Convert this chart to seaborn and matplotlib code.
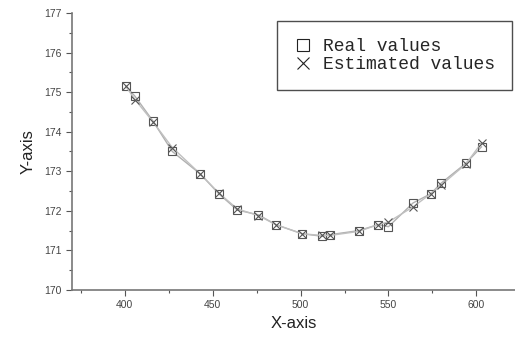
import seaborn as sns
import matplotlib.pyplot as plt
from matplotlib.lines import Line2D
from matplotlib.ticker import MultipleLocator

# values
x_real = [400.5, 405.7, 416, 427, 443, 453.5, 464, 476, 486, 501,
          512, 517, 533, 544, 550, 564, 574, 580, 594, 603]
y_real = [175.15, 174.9, 174.27, 173.5, 172.93, 172.43, 172.02, 171.9, 171.65, 171.42,
          171.36, 171.4, 171.5, 171.65, 171.6, 172.2, 172.43, 172.7, 173.2, 173.62]

x_est = [400.5, 406, 416, 427, 443, 453.5, 464, 476, 486, 501,
         512, 517, 533, 544, 550, 564, 574, 580, 594, 603]
y_est = [175.15, 174.8, 174.25, 173.6, 172.93, 172.45, 172.05, 171.88, 171.65, 171.42,
         171.38, 171.38, 171.48, 171.65, 171.72, 172.1, 172.43, 172.65, 173.18, 173.72]

sns.set_style('ticks')
plt.rcParams['font.family'] = ['Liberation Sans', 'DejaVu Sans']

fig = plt.figure(figsize=(5.15, 3.4), dpi=100)
ax = fig.add_axes([0.14, 0.147, 0.86, 0.815])

sns.lineplot(x=x_real, y=y_real, ax=ax, sort=False, color='#b0b0b0', linewidth=1.0,
             marker='s', markersize=5.5, markerfacecolor='none',
             markeredgecolor='#555555', markeredgewidth=0.8)
sns.lineplot(x=x_est, y=y_est, ax=ax, sort=False, color='#c0c0c0', linewidth=1.0,
             marker='x', markersize=5.5, markeredgecolor='#555555', markeredgewidth=0.8)

ax.set_xlim(370, 622)
ax.set_ylim(170, 177)
ax.xaxis.set_major_locator(MultipleLocator(50))
ax.xaxis.set_minor_locator(MultipleLocator(25))
ax.yaxis.set_major_locator(MultipleLocator(1))
ax.yaxis.set_minor_locator(MultipleLocator(0.5))
ax.tick_params(which='major', length=4, width=0.8, colors='#555555', labelsize=7.5,
               labelcolor='#444444')
ax.tick_params(which='minor', length=2, width=0.8, colors='#555555')

sns.despine(ax=ax)
for s in ['left', 'bottom']:
    ax.spines[s].set_color('#777777')
    ax.spines[s].set_linewidth(1.2)

ax.set_xlabel('X-axis', fontsize=12, color='#222222', labelpad=4)
ax.set_ylabel('Y-axis', fontsize=12, color='#222222', labelpad=6)

handles = [
    Line2D([], [], linestyle='none', marker='s', markersize=9, markerfacecolor='none',
           markeredgecolor='#222222', markeredgewidth=0.8),
    Line2D([], [], linestyle='none', marker='x', markersize=8,
           markeredgecolor='#222222', markeredgewidth=0.8),
]
leg = ax.legend(handles, ['Real values', 'Estimated values'], loc='upper right',
                bbox_to_anchor=(0.994, 0.97), borderaxespad=0, frameon=True, fancybox=False,
                prop={'family': 'Liberation Mono', 'size': 13},
                handlelength=1.0, handletextpad=0.6, borderpad=0.95, labelspacing=0.05)
leg.get_frame().set_edgecolor('#222222')
leg.get_frame().set_linewidth(1.0)

fig.savefig('out.png', dpi=100)
